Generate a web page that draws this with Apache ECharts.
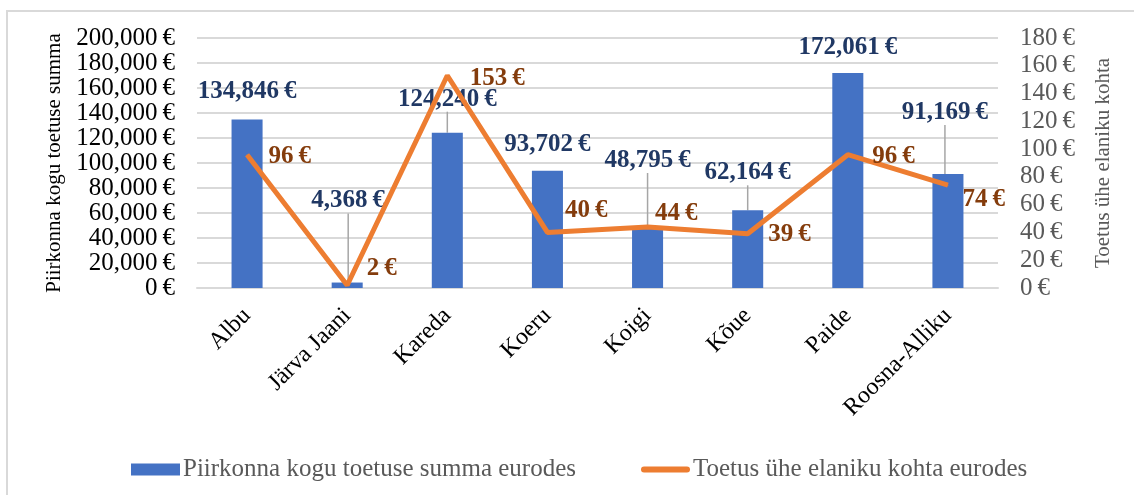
<!DOCTYPE html>
<html>
<head>
<meta charset="utf-8">
<script src="https://cdn.jsdelivr.net/npm/echarts@6/dist/echarts.min.js"></script>
<style>
  html, body { margin: 0; padding: 0; background: #fff; }
  #chart { width: 1134px; height: 495px; }
</style>
</head>
<body>
<div id="chart"></div>
<script>
// andmed
var categories = ['Albu', 'Järva Jaani', 'Kareda', 'Koeru', 'Koigi', 'Kõue', 'Paide', 'Roosna-Alliku'];
var totalSum = [134846, 4368, 124240, 93702, 48795, 62164, 172061, 91169];
var perResident = [96, 2, 153, 40, 44, 39, 96, 74];
var leftTicks = [0, 200000, 20000];   // min, max, interval
var rightTicks = [0, 180, 20];

// sildi nihked (ainult paigutus)
var barLabelShift = [[0, -10], [1, -64], [0, -16], [0, -9], [0, -49], [0, -20], [0, -8], [-3, -44]];
var barLeader = [false, true, true, false, true, true, false, true];
var lineLabelShift = [[16, 2], [14, -17], [17, 3], [12, -22], [2, -13], [15, 1], [19, 2], [9, 14]];

var FONT = "'Liberation Serif', 'Times New Roman', serif";
var FS = 25;

function euro(v) {
    return v.toLocaleString('en-US') + '\u2009€';
}

var barData = totalSum.map(function (v, i) {
    return { value: v, labelLine: { show: barLeader[i] } };
});

var chart = echarts.init(document.getElementById('chart'));
var option = {
    animation: false,
    textStyle: { fontFamily: FONT },
    graphic: [{
        type: 'rect',
        shape: { x: 7, y: 11, width: 1300, height: 600 },
        style: { fill: 'none', stroke: '#d9d9d9', lineWidth: 2 },
        silent: true
    }],
    grid: { left: 197, right: 136, top: 38, bottom: 207 },
    legend: {
        bottom: 13,
        left: 131,
        padding: 0,
        itemGap: 65,
        itemWidth: 49,
        itemHeight: 12,
        textStyle: { fontFamily: FONT, fontSize: FS, color: '#595959', padding: [0, 0, 0, -2] },
        data: [
            { name: 'Piirkonna kogu toetuse summa eurodes', icon: 'rect' },
            { name: 'Toetus ühe elaniku kohta eurodes', icon: 'path://M3,0 L46,0 A3,3 0 0 1 46,6 L3,6 A3,3 0 0 1 3,0 Z' }
        ]
    },
    xAxis: {
        type: 'category',
        data: categories,
        axisLine: { lineStyle: { color: '#d9d9d9', width: 2 } },
        axisTick: { show: false },
        axisLabel: {
            rotate: 45,
            margin: 24,
            fontFamily: FONT,
            fontSize: 24,
            color: '#000'
        }
    },
    yAxis: [{
        type: 'value',
        min: leftTicks[0],
        max: leftTicks[1],
        interval: leftTicks[2],
        name: 'Piirkonna kogu toetuse summa',
        nameLocation: 'middle',
        nameGap: 124,
        nameTextStyle: { fontFamily: FONT, fontSize: 21, color: '#000' },
        axisLine: { show: false },
        axisTick: { show: false },
        splitLine: { lineStyle: { color: '#d9d9d9', width: 2 } },
        axisLabel: {
            margin: 22,
            fontFamily: FONT,
            fontSize: FS,
            color: '#000',
            formatter: function (v) { return euro(v); }
        }
    }, {
        type: 'value',
        min: rightTicks[0],
        max: rightTicks[1],
        interval: rightTicks[2],
        name: 'Toetus ühe elaniku kohta',
        nameLocation: 'middle',
        nameGap: 95,
        nameRotate: 90,
        nameTextStyle: { fontFamily: FONT, fontSize: 21, color: '#595959' },
        axisLine: { show: false },
        axisTick: { show: false },
        splitLine: { show: false },
        axisLabel: {
            margin: 22,
            fontFamily: FONT,
            fontSize: FS,
            color: '#595959',
            formatter: function (v) { return euro(v); }
        }
    }],
    series: [{
        name: 'Piirkonna kogu toetuse summa eurodes',
        type: 'bar',
        yAxisIndex: 0,
        barWidth: '31%',
        itemStyle: { color: '#4472c4' },
        data: barData,
        label: {
            show: true,
            position: 'top',
            fontFamily: FONT,
            fontSize: FS,
            fontWeight: 'bold',
            color: '#203864',
            formatter: function (p) { return euro(p.value); }
        },
        labelLine: { show: true, lineStyle: { color: '#a6a6a6', width: 1.5 } },
        labelLayout: function (p) {
            var s = barLabelShift[p.dataIndex];
            return { dx: s[0], dy: s[1] };
        },
        z: 2
    }, {
        name: 'Toetus ühe elaniku kohta eurodes',
        type: 'line',
        yAxisIndex: 1,
        symbol: 'circle',
        symbolSize: 1,
        showSymbol: true,
        lineStyle: { color: '#ed7d31', width: 5 },
        itemStyle: { color: '#ed7d31' },
        data: perResident,
        label: {
            show: true,
            position: 'right',
            distance: 5,
            fontFamily: FONT,
            fontSize: FS,
            fontWeight: 'bold',
            color: '#843c0c',
            formatter: function (p) { return euro(p.value); }
        },
        labelLayout: function (p) {
            var s = lineLabelShift[p.dataIndex];
            return { dx: s[0], dy: s[1] };
        },
        z: 3
    }]
};
chart.setOption(option);
</script>
</body>
</html>
